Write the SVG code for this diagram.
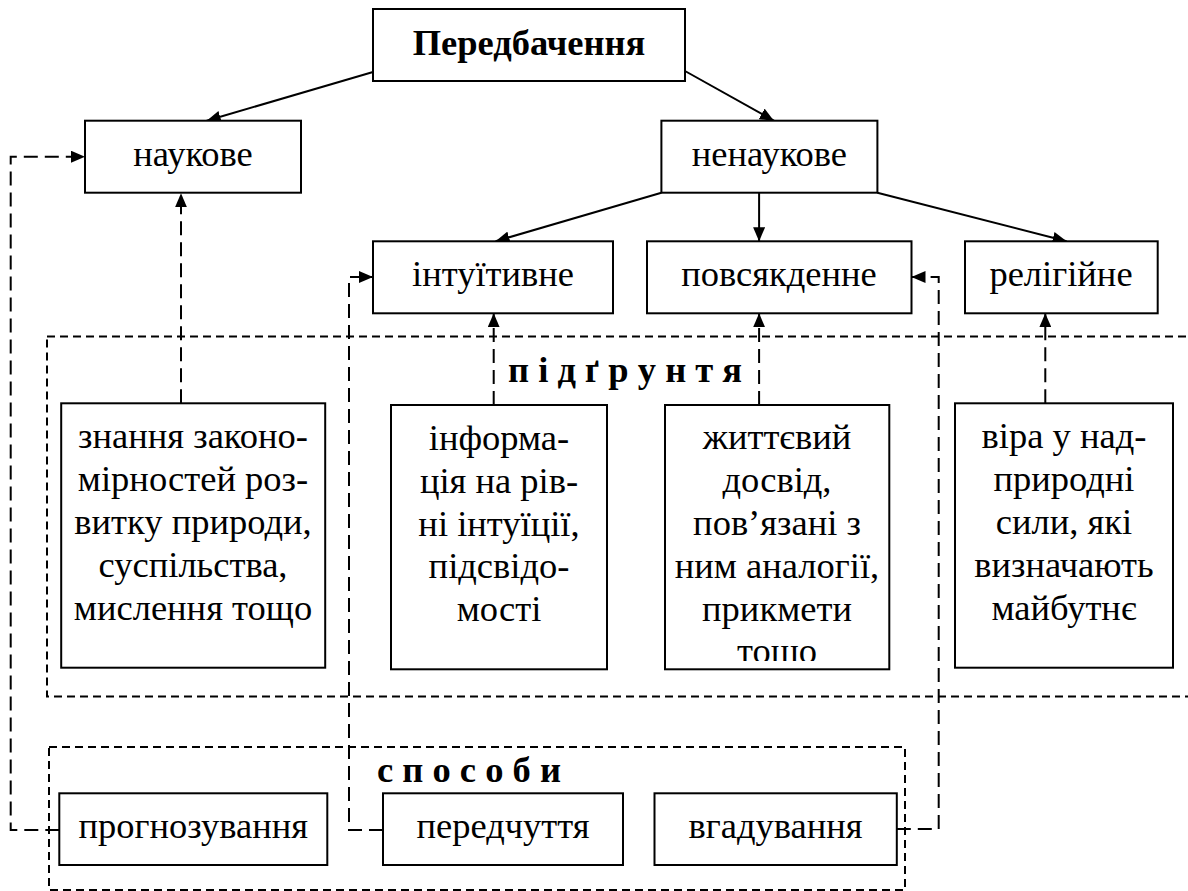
<svg xmlns="http://www.w3.org/2000/svg" width="1188" height="891" viewBox="0 0 1188 891">
<style>
  .box { fill: #fff; stroke: #000; stroke-width: 2; }
  .frame { fill: none; stroke: #000; stroke-width: 2; stroke-dasharray: 8 5; }
  .t { font-family: "Liberation Serif", "Times New Roman", serif; font-size: 36.5px; fill: #000; text-anchor: middle; }
  .b { font-weight: bold; }
  .lbl { font-family: "Liberation Serif", "Times New Roman", serif; font-size: 36.5px; font-weight: bold; fill: #000; }
  .solid { fill: none; stroke: #000; stroke-width: 2; }
  .dash { fill: none; stroke: #000; stroke-width: 2; stroke-dasharray: 14 7; }
</style>
<defs>
  <marker id="ah" viewBox="0 0 14 12" refX="14" refY="6" markerWidth="14" markerHeight="12" markerUnits="userSpaceOnUse" orient="auto">
    <path d="M0,0 L14,6 L0,12 z" fill="#000"/>
  </marker>
  <clipPath id="clipLife"><rect x="665" y="405" width="224" height="256"/></clipPath>
</defs>

<g id="frames">
  <rect id="frame-pidgruntia" class="frame" x="47" y="336.5" width="1160" height="360"/>
  <rect id="frame-sposoby" class="frame" x="49" y="747" width="856" height="143"/>
  <text class="lbl" x="508" y="381.5">п і д ґ р у н т я</text>
  <text class="lbl" x="377" y="781.5">с п о с о б и</text>
</g>

<g id="connectors">
  <line class="solid" x1="373" y1="72" x2="206.7" y2="120.7" marker-end="url(#ah)"/>
  <line class="solid" x1="685" y1="71" x2="773.9" y2="120.7" marker-end="url(#ah)"/>
  <line class="solid" x1="661.4" y1="192.7" x2="495.6" y2="241.3" marker-end="url(#ah)"/>
  <line class="solid" x1="759.1" y1="192.7" x2="759.1" y2="241.3" marker-end="url(#ah)"/>
  <line class="solid" x1="877.4" y1="192.7" x2="1066.6" y2="241.3" marker-end="url(#ah)"/>
  <path class="dash" d="M59.3,830 H10.7 V156.7 H85" marker-end="url(#ah)"/>
  <path class="dash" d="M383,830 H349 V277 H373" marker-end="url(#ah)"/>
  <path class="dash" d="M896.8,829 H938.7 V277 H911.5" marker-end="url(#ah)"/>
  <path class="dash" d="M181,403.3 V193.3" marker-end="url(#ah)"/>
  <path class="dash" d="M493.7,405 V313.3" marker-end="url(#ah)"/>
  <path class="dash" d="M759.1,405 V313.3" marker-end="url(#ah)"/>
  <path class="dash" d="M1045.3,403.3 V313.3" marker-end="url(#ah)"/>
</g>

<g id="n-peredbachennia">
  <rect class="box" x="373" y="9" width="312" height="72"/>
  <text class="t b" x="529" y="55">Передбачення</text>
</g>
<g id="n-naukove">
  <rect class="box" x="85" y="120.7" width="216" height="72"/>
  <text class="t" x="193" y="165.7">наукове</text>
</g>
<g id="n-nenaukove">
  <rect class="box" x="661.4" y="120.7" width="216" height="72"/>
  <text class="t" x="769.4" y="165.7">ненаукове</text>
</g>
<g id="n-intuityvne">
  <rect class="box" x="373" y="241.3" width="240" height="72"/>
  <text class="t" x="493" y="286">інтуїтивне</text>
</g>
<g id="n-povsiakdenne">
  <rect class="box" x="647" y="241.3" width="264.5" height="72"/>
  <text class="t" x="779" y="286">повсякденне</text>
</g>
<g id="n-relihiine">
  <rect class="box" x="965" y="241.3" width="192.7" height="72"/>
  <text class="t" x="1061" y="286">релігійне</text>
</g>

<g id="n-znannia">
  <rect class="box" x="61.2" y="403.3" width="264" height="264.4"/>
  <text class="t" x="193" y="448.3">знання законо-</text>
  <text class="t" x="193" y="491.1">мірностей роз-</text>
  <text class="t" x="193" y="533.9">витку природи,</text>
  <text class="t" x="193" y="576.7">суспільства,</text>
  <text class="t" x="193" y="619.5">мислення тощо</text>
</g>
<g id="n-informatsiia">
  <rect class="box" x="391" y="405" width="216" height="264.3"/>
  <text class="t" x="499" y="450">інформа-</text>
  <text class="t" x="499" y="492.8">ція на рів-</text>
  <text class="t" x="499" y="535.6">ні інтуїції,</text>
  <text class="t" x="499" y="578.4">підсвідо-</text>
  <text class="t" x="499" y="621.2">мості</text>
</g>
<g id="n-dosvid">
  <rect class="box" x="665" y="405" width="224.3" height="264.3"/>
  <g clip-path="url(#clipLife)">
    <text class="t" x="777" y="449.3">життєвий</text>
    <text class="t" x="777" y="492.1">досвід,</text>
    <text class="t" x="777" y="534.9">пов’язані з</text>
    <text class="t" x="777" y="577.7">ним аналогії,</text>
    <text class="t" x="777" y="620.5">прикмети</text>
    <text class="t" x="777" y="663.3">тощо</text>
  </g>
</g>
<g id="n-vira">
  <rect class="box" x="955" y="403.3" width="218" height="264.4"/>
  <text class="t" x="1064" y="448.3">віра у над-</text>
  <text class="t" x="1064" y="491.1">природні</text>
  <text class="t" x="1064" y="533.9">сили, які</text>
  <text class="t" x="1064" y="576.7">визначають</text>
  <text class="t" x="1064" y="619.5">майбутнє</text>
</g>

<g id="n-prohnozuvannia">
  <rect class="box" x="59.3" y="793.3" width="268" height="71.7"/>
  <text class="t" x="193.3" y="838">прогнозування</text>
</g>
<g id="n-peredchuttia">
  <rect class="box" x="383" y="793.3" width="240" height="71.7"/>
  <text class="t" x="503" y="838">передчуття</text>
</g>
<g id="n-vhaduvannia">
  <rect class="box" x="654.5" y="793.3" width="242.3" height="71.7"/>
  <text class="t" x="775.6" y="838">вгадування</text>
</g>
</svg>
